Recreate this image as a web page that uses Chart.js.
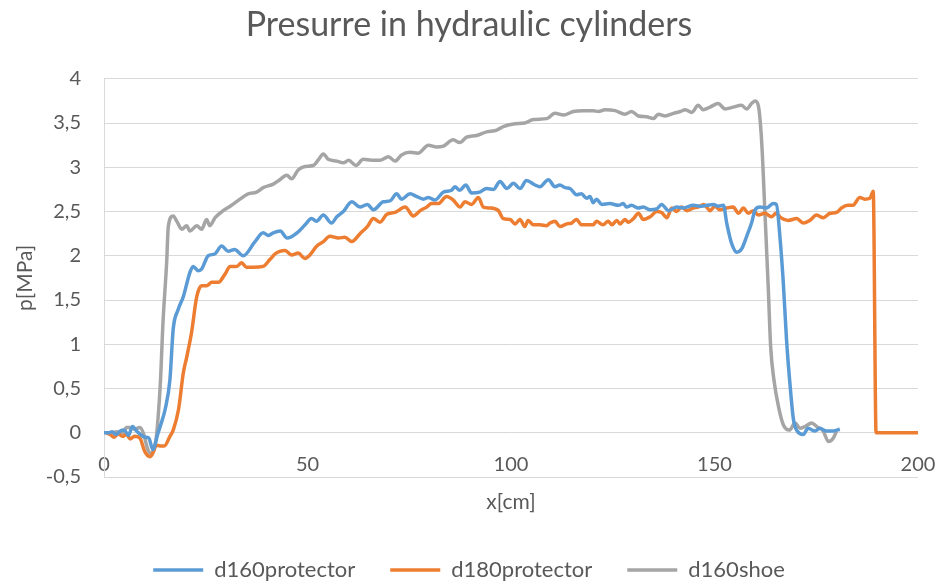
<!DOCTYPE html>
<html>
<head>
<meta charset="utf-8">
<script src="https://cdn.jsdelivr.net/npm/chart.js@4.4.1/dist/chart.umd.min.js"></script>
<style>
  html, body { margin: 0; padding: 0; background: #fff; }
</style>
</head>
<body>
<canvas id="chart" width="938" height="582"></canvas>
<script>
  // d160protector
  const d160protectorX = [0, 1, 2, 3, 4, 5, 6, 7, 8, 9, 10, 11, 12, 13.3, 14, 15, 16.2, 17, 18.2, 19.5, 21.1, 21.9, 23.2, 24, 25.6, 27.2, 28.9, 30.5, 32.1, 34.2, 37.1, 39.1, 40.4, 41.6, 43.3, 45, 47.7, 49.4, 51, 52.2, 53.9, 55.9, 57.2, 58.8, 60.9, 62.9, 64.7, 66.2, 68.6, 70.3, 71.9, 73.1, 75.2, 76.8, 78.5, 79.7, 81.3, 83.4, 85.4, 86.2, 87.4, 88.9, 90.3, 92.3, 94, 95.7, 97.3, 99, 100.6, 102.2, 103.8, 105.9, 107.1, 109.2, 110.8, 112, 113.3, 114.5, 116.1, 117.3, 118.6, 119.4, 120.2, 121, 122.3, 124.3, 126.4, 127.6, 128.4, 129.6, 131.3, 132.5, 134.2, 135.8, 137, 138.7, 140.7, 142.3, 144.8, 146.4, 148.1, 149.7, 150.9, 152.2, 153, 154.2, 155.5, 156.7, 157.9, 159.1, 160, 161.2, 162.8, 164.4, 165.2, 166.1, 166.9, 167.7, 168.6, 169.4, 170.3, 171.8, 173, 174.7, 175.9, 177.5, 179.2, 180.8];
  const d160protectorY = [0, 0, 0.01, -0.02, 0.02, 0.03, -0.03, 0.07, 0.02, -0.02, -0.05, -0.06, -0.19, 0, 0.1, 0.26, 0.6, 1.17, 1.39, 1.54, 1.81, 1.88, 1.83, 1.85, 2.0, 2.02, 2.11, 2.05, 2.07, 2.0, 2.16, 2.26, 2.23, 2.26, 2.28, 2.2, 2.27, 2.35, 2.42, 2.39, 2.46, 2.37, 2.44, 2.5, 2.61, 2.55, 2.58, 2.52, 2.61, 2.62, 2.7, 2.64, 2.7, 2.67, 2.64, 2.66, 2.63, 2.72, 2.74, 2.78, 2.74, 2.8, 2.71, 2.72, 2.76, 2.75, 2.84, 2.76, 2.82, 2.76, 2.85, 2.8, 2.78, 2.86, 2.78, 2.8, 2.77, 2.76, 2.69, 2.7, 2.65, 2.67, 2.6, 2.64, 2.58, 2.59, 2.57, 2.59, 2.55, 2.57, 2.54, 2.55, 2.52, 2.53, 2.58, 2.51, 2.55, 2.54, 2.57, 2.56, 2.57, 2.58, 2.56, 2.57, 2.37, 2.14, 2.04, 2.08, 2.22, 2.37, 2.52, 2.55, 2.54, 2.59, 2.58, 2.2, 1.7, 1.05, 0.52, 0.15, 0.02, -0.02, 0.05, 0.02, 0.05, 0.02, 0.02, 0.04];

  // d180protector
  const d180protectorX = [0.5, 1.5, 2.5, 3.5, 4.5, 5.5, 6.5, 7.5, 8.8, 10, 11.3, 12, 12.9, 14, 14.8, 16.2, 17, 18.3, 19.5, 20.3, 21.5, 22.8, 24, 25.2, 26.5, 28.1, 29.7, 31, 32.6, 33.8, 35, 36.7, 39.1, 40.8, 42, 43.2, 44.5, 46.1, 47.7, 49.4, 50.6, 52.3, 53.9, 55.5, 57.6, 59.2, 60.9, 62.9, 64.7, 66.2, 67.8, 69.5, 71.5, 74, 76, 77.7, 79.3, 80.5, 82.1, 84.2, 85.8, 87.5, 88.7, 90.3, 92, 93.2, 94.8, 96.9, 98.1, 99.8, 101, 102.2, 103.4, 104.2, 105.5, 107.1, 108.7, 109.6, 110.8, 112, 113.7, 114.9, 116.1, 117.3, 119, 120.2, 121, 122.6, 123.9, 124.8, 126, 126.8, 128, 128.8, 130.1, 131.3, 132.5, 134.2, 135.8, 137, 138.3, 139.5, 140.7, 141.9, 143.2, 144.8, 146, 147.3, 148.1, 148.9, 150.1, 151.3, 153, 154.6, 155.9, 157.1, 158.3, 159.5, 160.8, 162.4, 164, 165.1, 166.3, 168.1, 170.2, 171.8, 173.4, 175.1, 176.7, 178.4, 180, 181.2, 182.8, 184, 185.7, 186.9, 188.2, 189, 189.7, 195, 200];
  const d180protectorY = [0, -0.02, -0.05, -0.01, -0.04, -0.02, -0.07, -0.04, -0.06, -0.21, -0.27, -0.23, -0.14, -0.15, -0.15, -0.04, 0.03, 0.26, 0.68, 0.85, 1.13, 1.54, 1.66, 1.66, 1.7, 1.7, 1.79, 1.88, 1.88, 1.92, 1.87, 1.87, 1.88, 1.96, 2.02, 2.05, 2.06, 2.01, 2.03, 1.97, 2.01, 2.11, 2.16, 2.22, 2.2, 2.21, 2.16, 2.25, 2.33, 2.42, 2.38, 2.47, 2.49, 2.55, 2.45, 2.51, 2.55, 2.59, 2.59, 2.67, 2.63, 2.55, 2.61, 2.58, 2.66, 2.55, 2.54, 2.51, 2.42, 2.41, 2.36, 2.41, 2.33, 2.4, 2.35, 2.35, 2.34, 2.37, 2.39, 2.33, 2.36, 2.37, 2.41, 2.35, 2.35, 2.35, 2.39, 2.35, 2.39, 2.35, 2.4, 2.36, 2.41, 2.38, 2.42, 2.48, 2.41, 2.44, 2.5, 2.49, 2.43, 2.54, 2.5, 2.55, 2.51, 2.54, 2.55, 2.58, 2.55, 2.51, 2.56, 2.52, 2.54, 2.55, 2.48, 2.54, 2.48, 2.51, 2.46, 2.48, 2.44, 2.48, 2.43, 2.4, 2.42, 2.37, 2.4, 2.46, 2.43, 2.48, 2.49, 2.54, 2.57, 2.57, 2.66, 2.64, 2.65, 2.73, 0, 0, 0];

  // d160shoe
  const d160shoeX = [0.7, 2, 3, 4.7, 5.5, 6.5, 7.5, 8.8, 9.8, 10.5, 11.3, 12.5, 13.8, 14.5, 15.4, 15.8, 17, 18, 19.1, 20.3, 21.1, 22.8, 24, 25.2, 26, 27.3, 29.3, 31, 33.4, 35.4, 37.5, 39.1, 41.6, 43.2, 44.9, 46.1, 47.7, 49.4, 51.4, 52.6, 53.9, 55.1, 57.2, 58.8, 60.1, 61.9, 63.7, 65.8, 67.8, 69.9, 71.5, 73.1, 75.2, 77.2, 79.7, 81.7, 83.4, 85.8, 87.4, 89.1, 91.6, 94, 96.5, 98.1, 100.6, 103.4, 105.5, 108.8, 110.8, 112.9, 115.3, 117.7, 120.2, 121.5, 123.1, 125.6, 128, 129.6, 131.3, 133.3, 135, 136.2, 137.9, 139.9, 141.6, 142.8, 144.4, 146, 147.2, 148.9, 150.9, 152.6, 154.6, 156.6, 157.9, 159.1, 160, 160.8, 161.6, 162.4, 163.2, 163.8, 164.6, 165.7, 166.9, 168.4, 169.8, 171, 172.2, 173.9, 175.1, 176.7, 178, 179.2, 180];
  const d160shoeY = [0, 0, 0.01, 0, 0.06, 0.06, 0.04, 0.06, -0.02, -0.15, -0.23, -0.15, 0.52, 1.25, 1.93, 2.33, 2.45, 2.38, 2.3, 2.34, 2.28, 2.34, 2.3, 2.41, 2.34, 2.43, 2.51, 2.56, 2.64, 2.7, 2.72, 2.77, 2.81, 2.86, 2.91, 2.87, 2.97, 3.01, 3.02, 3.08, 3.15, 3.09, 3.07, 3.05, 3.08, 3.02, 3.09, 3.08, 3.08, 3.12, 3.07, 3.14, 3.17, 3.16, 3.25, 3.23, 3.24, 3.31, 3.28, 3.34, 3.36, 3.4, 3.42, 3.46, 3.49, 3.5, 3.54, 3.55, 3.61, 3.59, 3.63, 3.64, 3.64, 3.63, 3.65, 3.64, 3.6, 3.63, 3.58, 3.57, 3.55, 3.6, 3.58, 3.61, 3.63, 3.65, 3.62, 3.7, 3.65, 3.68, 3.72, 3.66, 3.68, 3.7, 3.66, 3.72, 3.75, 3.69, 3.28, 2.48, 1.65, 0.97, 0.6, 0.3, 0.09, 0.03, 0.11, 0.05, 0.07, 0.11, 0.07, 0.02, -0.1, -0.06, 0.02];

  const seriesNames = ["d160protector", "d180protector", "d160shoe"];
  const seriesColors = ["#5B9BD5", "#ED7D31", "#A5A5A5"];
  const xTicks = [0, 50, 100, 150, 200];
  const yMin = -0.5;
  const yMax = 4;
  const yStep = 0.5;

  const textColor = "#595959";
  const gridColor = "#D9D9D9";
  const fontFamily = "Lato, 'Open Sans', sans-serif";

  function toPoints(xs, ys) {
    return xs.map((x, i) => ({ x: x, y: ys[i] }));
  }

  const allX = [d160protectorX, d180protectorX, d160shoeX];
  const allY = [d160protectorY, d180protectorY, d160shoeY];

  const datasets = seriesNames.map((name, i) => ({
    label: name,
    data: toPoints(allX[i], allY[i]),
    borderColor: seriesColors[i],
    backgroundColor: seriesColors[i],
    borderWidth: 3.5,
    pointRadius: 0,
    cubicInterpolationMode: "monotone",
    fill: false,
  }));

  new Chart(document.getElementById("chart").getContext("2d"), {
    type: "line",
    data: { datasets: datasets },
    options: {
      responsive: false,
      animation: false,
      layout: { padding: { left: 0, right: 0, top: 0, bottom: -9 } },
      plugins: {
        title: {
          display: true,
          text: "Presurre in hydraulic cylinders",
          color: textColor,
          font: { family: fontFamily, size: 34, weight: "normal" },
          padding: { top: 5, bottom: 33 },
        },
        legend: {
          position: "bottom",
          // empty legend title only keeps the gap between plot and legend
          title: { display: true, text: "", font: { size: 10 }, padding: { top: 35, bottom: 0 } },
          labels: {
            color: textColor,
            font: { family: fontFamily, size: 22 },
            usePointStyle: true,
            pointStyle: "line",
            pointStyleWidth: 50,
            padding: 35,
          },
        },
        tooltip: { enabled: false },
      },
      scales: {
        x: {
          type: "linear",
          position: { y: 0 },
          min: xTicks[0],
          max: xTicks[xTicks.length - 1],
          afterBuildTicks: (axis) => {
            axis.ticks = xTicks.map((v) => ({ value: v }));
          },
          afterFit: (axis) => {
            axis.height = 82;
            axis.paddingLeft = 0;
            axis.paddingRight = 20;
          },
          grid: { display: false, drawTicks: false },
          border: { display: false },
          ticks: {
            color: textColor,
            font: { family: fontFamily, size: 20 },
            padding: 20,
            maxRotation: 0,
          },
          title: {
            display: true,
            text: "x[cm]",
            color: textColor,
            font: { family: fontFamily, size: 21 },
            padding: 0,
          },
        },
        y: {
          min: yMin,
          max: yMax,
          afterFit: (axis) => {
            axis.width = 104;
          },
          ticks: {
            stepSize: yStep,
            color: textColor,
            font: { family: fontFamily, size: 20 },
            padding: 23,
            callback: (v) => String(v).replace(".", ","),
          },
          grid: { color: gridColor, lineWidth: 1, drawTicks: false },
          border: { color: gridColor },
          title: {
            display: true,
            text: "p[MPa]",
            color: textColor,
            font: { family: fontFamily, size: 21 },
            padding: { top: 13, bottom: 0 },
          },
        },
      },
    },
  });
</script>
</body>
</html>
